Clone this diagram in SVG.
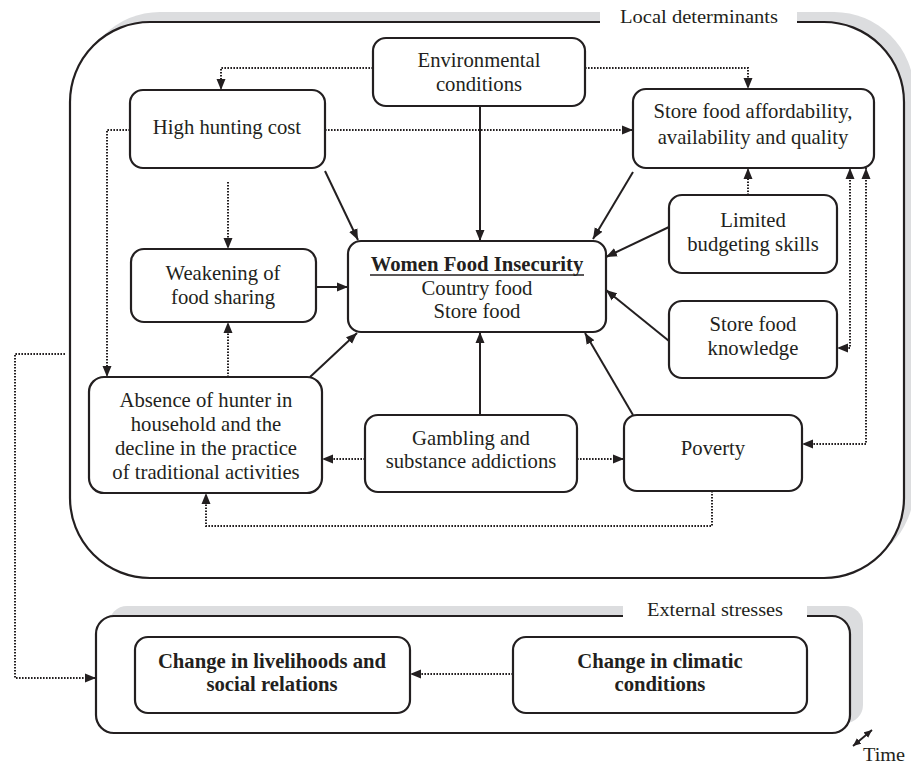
<svg xmlns="http://www.w3.org/2000/svg" width="911" height="765" viewBox="0 0 911 765">
<style>
.bg{fill:#ffffff}
.shadow{fill:#dcdddf}
.frame{fill:#ffffff;stroke:#231f20;stroke-width:2.2}
.box{fill:#ffffff;stroke:#231f20;stroke-width:2.2}
.t{font-family:"Liberation Serif","Times New Roman",serif;font-size:20.7px;fill:#231f20;text-anchor:middle}
.b{font-weight:bold}
.lab{font-family:"Liberation Serif","Times New Roman",serif;font-size:19.5px;fill:#231f20;text-anchor:middle}
.solid{fill:none;stroke:#231f20;stroke-width:2;marker-end:url(#ah)}
.dot{fill:none;stroke:#231f20;stroke-width:2;stroke-dasharray:1.6 1.4;marker-end:url(#ah)}
.dot2{fill:none;stroke:#231f20;stroke-width:2;stroke-dasharray:1.6 1.4;marker-end:url(#ah);marker-start:url(#ah)}
</style>
<defs>
<marker id="ah" markerUnits="userSpaceOnUse" markerWidth="12" markerHeight="10" refX="11" refY="5" orient="auto-start-reverse" viewBox="0 0 12 10">
<path d="M0,0.5 L11,5 L0,9.5 z" fill="#231f20"/>
</marker>
<marker id="ahs" markerUnits="userSpaceOnUse" markerWidth="9" markerHeight="8" refX="8" refY="4" orient="auto-start-reverse" viewBox="0 0 9 8">
<path d="M0,0.5 L8,4 L0,7.5 z" fill="#231f20"/>
</marker>
</defs>
<rect class="bg" x="0" y="0" width="911" height="765"/>

<g id="local-determinants">
<rect class="shadow" x="80" y="12" width="834" height="556" rx="80"/>
<rect class="frame" x="70" y="22" width="834" height="556" rx="80"/>
<rect class="bg" x="600" y="3" width="197" height="25"/>
<text class="lab" x="699" y="23" textLength="158" lengthAdjust="spacingAndGlyphs">Local determinants</text>
</g>

<g id="external-stresses">
<rect class="shadow" x="109" y="606" width="754" height="117" rx="18"/>
<rect class="frame" x="96" y="616" width="754" height="117" rx="18"/>
<rect class="bg" x="623" y="595" width="184" height="25"/>
<text class="lab" x="715" y="616" textLength="136" lengthAdjust="spacingAndGlyphs">External stresses</text>
</g>

<g id="connectors">
<path class="solid" d="M480,106 L480,241"/>
<path class="solid" d="M325,171 L358,240"/>
<path class="solid" d="M633,172 L593,239"/>
<path class="solid" d="M669,227 L606,257"/>
<path class="solid" d="M316,287 L348,287"/>
<path class="solid" d="M669,341 L606,290"/>
<path class="solid" d="M633,415 L585,333"/>
<path class="solid" d="M480,416 L480,332"/>
<path class="solid" d="M310,377 L357,333"/>
<path class="dot" d="M373,68 L221,68 L221,90"/>
<path class="dot" d="M585,68 L748,68 L748,89"/>
<path class="dot" d="M325,130 L633,130"/>
<path class="dot" d="M228,182 L228,249"/>
<path class="dot" d="M130,130 L107,130 L107,377"/>
<path class="dot" d="M228,377 L228,322"/>
<path class="dot" d="M748,195 L748,168"/>
<path class="dot2" d="M850,168 L850,348 L837,348"/>
<path class="dot2" d="M866,168 L866,444 L802,444"/>
<path class="dot" d="M365,459 L322,459"/>
<path class="dot" d="M577,459 L624,459"/>
<path class="dot" d="M712,491 L712,526 L206,526 L206,493"/>
<path class="dot" d="M65,354 L15,354 L15,678 L96,678"/>
<path class="dot" d="M513,674 L410,674"/>
</g>

<g id="n-environmental">
<rect class="box" x="373" y="38" width="212" height="68" rx="13"/>
<text class="t" x="479" y="67">Environmental</text>
<text class="t" x="479" y="91">conditions</text>
</g>
<g id="n-hunting">
<rect class="box" x="130" y="90" width="195" height="78" rx="13"/>
<text class="t" x="227" y="134">High hunting cost</text>
</g>
<g id="n-storefood">
<rect class="box" x="633" y="89" width="241" height="79" rx="13"/>
<text class="t" x="753" y="118">Store food affordability,</text>
<text class="t" x="753" y="144">availability and quality</text>
</g>
<g id="n-budgeting">
<rect class="box" x="669" y="195" width="168" height="78" rx="13"/>
<text class="t" x="753" y="227">Limited</text>
<text class="t" x="753" y="251">budgeting skills</text>
</g>
<g id="n-weakening">
<rect class="box" x="131" y="249" width="185" height="73" rx="13"/>
<text class="t" x="223" y="280">Weakening of</text>
<text class="t" x="223" y="304">food sharing</text>
</g>
<g id="n-women">
<rect class="box" x="348" y="241" width="258" height="91" rx="13"/>
<text class="t b" x="477" y="271">Women Food Insecurity</text>
<line x1="370" y1="275" x2="584" y2="275" stroke="#231f20" stroke-width="1.6"/>
<text class="t" x="477" y="295">Country food</text>
<text class="t" x="477" y="318">Store food</text>
</g>
<g id="n-knowledge">
<rect class="box" x="669" y="301" width="168" height="77" rx="13"/>
<text class="t" x="753" y="331">Store food</text>
<text class="t" x="753" y="355">knowledge</text>
</g>
<g id="n-absence">
<rect class="box" x="89" y="377" width="233" height="116" rx="15"/>
<text class="t" x="206" y="407">Absence of hunter in</text>
<text class="t" x="206" y="431">household and the</text>
<text class="t" x="206" y="455">decline in the practice</text>
<text class="t" x="206" y="479">of traditional activities</text>
</g>
<g id="n-gambling">
<rect class="box" x="365" y="415" width="212" height="77" rx="13"/>
<text class="t" x="471" y="445">Gambling and</text>
<text class="t" x="471" y="468">substance addictions</text>
</g>
<g id="n-poverty">
<rect class="box" x="624" y="415" width="178" height="76" rx="13"/>
<text class="t" x="713" y="455">Poverty</text>
</g>
<g id="n-livelihoods">
<rect class="box" x="135" y="637" width="275" height="76" rx="13"/>
<text class="t b" x="272" y="668">Change in livelihoods and</text>
<text class="t b" x="272" y="691">social relations</text>
</g>
<g id="n-climatic">
<rect class="box" x="513" y="637" width="294" height="76" rx="13"/>
<text class="t b" x="660" y="668">Change in climatic</text>
<text class="t b" x="660" y="691">conditions</text>
</g>

<g id="time">
<path d="M853,746 L872,730" fill="none" stroke="#231f20" stroke-width="1.8" marker-start="url(#ahs)" marker-end="url(#ahs)"/>
<text class="lab" x="884" y="761" textLength="42" lengthAdjust="spacingAndGlyphs">Time</text>
</g>
</svg>
